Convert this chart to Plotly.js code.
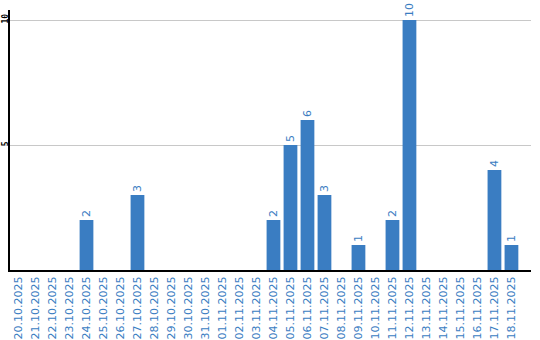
<!DOCTYPE html>
<html><head><meta charset="utf-8">
<script src="https://cdn.plot.ly/plotly-3.0.1.min.js"></script>
<style>html,body{margin:0;padding:0;background:#fff}#c{width:540px;height:340px}</style>
</head><body><div id="c"></div>
<script>
var dates = ["20.10.2025","21.10.2025","22.10.2025","23.10.2025","24.10.2025","25.10.2025","26.10.2025","27.10.2025","28.10.2025","29.10.2025","30.10.2025","31.10.2025","01.11.2025","02.11.2025","03.11.2025","04.11.2025","05.11.2025","06.11.2025","07.11.2025","08.11.2025","09.11.2025","10.11.2025","11.11.2025","12.11.2025","13.11.2025","14.11.2025","15.11.2025","16.11.2025","17.11.2025","18.11.2025"];
var counts = [0,0,0,0,2,0,0,3,0,0,0,0,0,0,0,2,5,6,3,0,1,0,2,10,0,0,0,0,4,1];
var yTicks = [5,10];
var labels = counts.map(function(v){return v>0?String(v):"";});
var blue = "#3a7dc2";
Plotly.newPlot("c",[{
  type:"bar", x:dates, y:counts, text:labels, textposition:"outside", textangle:-90,
  cliponaxis:false,
  textfont:{family:"DejaVu Sans", size:11, color:blue},
  marker:{color:blue}, hoverinfo:"none"
}],{
  width:540, height:340, margin:{l:10,r:9,t:10,b:70},
  paper_bgcolor:"#fff", plot_bgcolor:"#fff", bargap:0.19, showlegend:false,
  xaxis:{type:"category", range:[-0.5,30.15], tickangle:-90, tickfont:{family:"DejaVu Sans", size:11, color:blue},
    showline:true, linecolor:"#000", linewidth:2, ticks:"", showgrid:false, automargin:false},
  yaxis:{range:[0,10.4], tickvals:yTicks, ticktext:yTicks.map(String), tickangle:-90,
    tickfont:{family:"DejaVu Sans Mono", size:8, color:"#000", weight:"bold"},
    showline:true, linecolor:"#000", linewidth:2, ticks:"", gridcolor:"#c8c8c8", gridwidth:1,
    zeroline:false, automargin:false, ticklabelstandoff:-3}
},{staticPlot:true, displayModeBar:false});
</script></body></html>
